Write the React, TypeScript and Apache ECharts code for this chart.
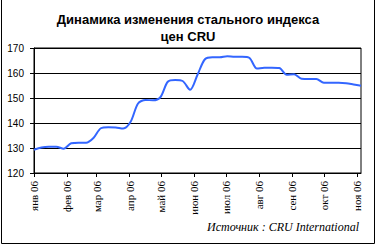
import React, { useEffect, useRef } from "react";
import * as echarts from "echarts";

const titleText = "Динамика изменения стального индекса\nцен CRU";
const sourceText = "Источник : CRU International";
const monthNames = ["янв", "фев", "мар", "апр", "май", "июн", "июл", "авг", "сен", "окт", "ноя", "дек"];

const dates = [
  "2006-01-01", "2006-01-08", "2006-01-15", "2006-01-22", "2006-01-29",
  "2006-02-05", "2006-02-12", "2006-02-19", "2006-02-26",
  "2006-03-05", "2006-03-12", "2006-03-19", "2006-03-26",
  "2006-04-02", "2006-04-09", "2006-04-16", "2006-04-23", "2006-04-30",
  "2006-05-07", "2006-05-14", "2006-05-21", "2006-05-28",
  "2006-06-04", "2006-06-11", "2006-06-18", "2006-06-25",
  "2006-07-02", "2006-07-09", "2006-07-16", "2006-07-23", "2006-07-30",
  "2006-08-06", "2006-08-13", "2006-08-20", "2006-08-27",
  "2006-09-03", "2006-09-10", "2006-09-17", "2006-09-24",
  "2006-10-01", "2006-10-08", "2006-10-15", "2006-10-22", "2006-10-29",
  "2006-11-05",
];

const values = [
  129.3, 130.2, 130.5, 130.5, 129.7,
  131.9, 132.1, 132.1, 134.0,
  137.9, 138.3, 138.2, 137.8,
  140.5, 147.8, 149.2, 149.1, 150.3,
  156.5, 157.2, 156.8, 153.3,
  159.3, 165.5, 166.3, 166.3,
  166.7, 166.5, 166.5, 166.0, 161.8,
  162.1, 162.1, 162.0, 159.3,
  159.5, 157.7, 157.6, 157.6,
  156.1, 156.1, 156.1, 155.9, 155.4,
  154.9,
];

const yMin = 120;
const yMax = 170;
const yStep = 10;

export default function App() {
  const ref = useRef<HTMLDivElement>(null);
  useEffect(() => {
    if (!ref.current) return;
    const chart = echarts.init(ref.current, null, { renderer: "svg" });
    chart.setOption({
      animation: false,
      backgroundColor: "#ffffff",
      title: {
        text: titleText,
        left: "center",
        top: 6,
        textStyle: {
          fontFamily: "Arial, 'Liberation Sans', sans-serif",
          fontWeight: "bold",
          fontSize: 13,
          lineHeight: 17,
          color: "#000",
        },
      },
      grid: {
        left: 34,
        top: 48,
        right: 15,
        bottom: 72,
        show: true,
        borderColor: "#000",
        borderWidth: 1,
        backgroundColor: "transparent",
      },
      xAxis: {
        type: "time",
        min: dates[0],
        max: dates[dates.length - 1],
        splitNumber: 10,
        axisLine: { lineStyle: { color: "#000", width: 1 } },
        axisTick: { show: true, length: 4, lineStyle: { color: "#000" } },
        splitLine: { show: false },
        axisLabel: {
          rotate: 90,
          margin: 8,
          fontFamily: "'Liberation Serif', 'Times New Roman', serif",
          fontSize: 11,
          color: "#000",
          hideOverlap: false,
          formatter: (v: number) => monthNames[new Date(v).getMonth()] + " 06",
        },
      },
      yAxis: {
        type: "value",
        min: yMin,
        max: yMax,
        interval: yStep,
        axisLine: { show: true, lineStyle: { color: "#000", width: 1 } },
        axisTick: { show: true, length: 4, lineStyle: { color: "#000" } },
        splitLine: { show: true, lineStyle: { color: "#000", width: 1 } },
        axisLabel: {
          margin: 10,
          fontFamily: "Arial, 'Liberation Sans', sans-serif",
          fontSize: 10,
          color: "#000",
        },
      },
      series: [
        {
          type: "line",
          data: dates.map((d, i) => [d, values[i]]),
          showSymbol: false,
          smooth: 0.3,
          lineStyle: { color: "#3366ff", width: 2 },
          itemStyle: { color: "#3366ff" },
        },
      ],
      graphic: [
        {
          type: "rect",
          shape: { x: 1.5, y: -5, width: 373, height: 248.5 },
          style: { fill: "none", stroke: "#000", lineWidth: 1 },
          silent: true,
        },
        {
          type: "text",
          x: 359,
          y: 227,
          style: {
            text: sourceText,
            align: "right",
            verticalAlign: "middle",
            fontFamily: "'Liberation Serif', 'Times New Roman', serif",
            fontStyle: "italic",
            fontSize: 12,
            fill: "#000",
          },
        },
      ],
    });
    return () => chart.dispose();
  }, []);
  return (
    <div
      ref={ref}
      style={{ position: "fixed", left: 0, top: 0, width: 376, height: 245 }}
    />
  );
}
